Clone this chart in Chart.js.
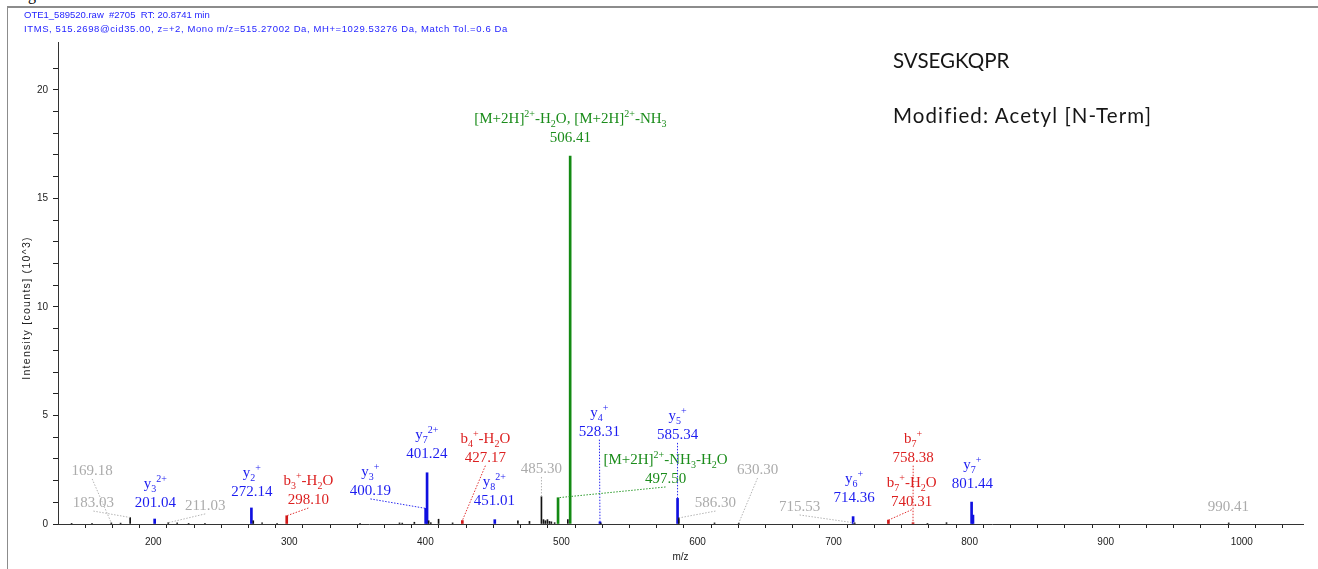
<!DOCTYPE html>
<html>
<head>
<meta charset="utf-8">
<title>SVSEGKQPR MS/MS spectrum</title>
<script src="https://cdn.jsdelivr.net/npm/chart.js@4.4.1/dist/chart.umd.min.js"></script>
<style>
  html, body { margin: 0; padding: 0; background: #fff; }
  body { width: 1318px; height: 569px; position: relative; overflow: hidden; }
  #spec { position: absolute; left: 0; top: 0; }
  .frame { position: absolute; left: 7px; top: 6px; width: 1400px; height: 700px;
           border-left: 1px solid #8c8c8c; border-top: 2px solid #8c8c8c; }
  .cut { position: absolute; left: 28px; top: -13px; font: 16px 'Liberation Serif', serif; line-height: 16px; }
  .hdr { position: absolute; left: 24px; font: 9.5px 'Liberation Sans', Arial, sans-serif; color: #2525ff;
         white-space: pre; line-height: 14px; }
  .note { position: absolute; left: 893px; font: 20.5px Lato, 'Open Sans', sans-serif; color: #161616;
          white-space: nowrap; line-height: 20px; }
</style>
</head>
<body>
<div class="cut">g</div>
<div class="frame"></div>
<canvas id="spec" width="1318" height="569"></canvas>
<div class="hdr" style="top:8px">OTE1_589520.raw  #2705  RT: 20.8741 min</div>
<div class="hdr" style="top:22px; letter-spacing:0.6px">ITMS, 515.2698@cid35.00, z=+2, Mono m/z=515.27002 Da, MH+=1029.53276 Da, Match Tol.=0.6 Da</div>
<div class="note" style="top:50px">SVSEGKQPR</div>
<div class="note" style="top:105px; letter-spacing:1.1px">Modified: Acetyl [N-Term]</div>

<script>
// axis range + tick labels
const X_MIN = 130, X_MAX = 1045;
const Y_MAX = 22.2;
const X_TICK_LABELS = [200, 300, 400, 500, 600, 700, 800, 900, 1000];
const Y_TICK_LABELS = [0, 5, 10, 15, 20];
const Y_TITLE = 'Intensity [counts] (10^3)';

// intensities in counts x 10^3
// y ions (blue)
const yIonMz  = [201.04, 272.14, 400.19, 401.24, 451.01, 528.31, 585.34, 714.36, 801.44, 802.45];
const yIonInt = [0.23, 0.74, 0.72, 2.36, 0.20, 0.10, 1.18, 0.34, 1.01, 0.41];
// b ions (red)
const bIonMz  = [298.10, 427.17, 740.31, 758.38];
const bIonInt = [0.38, 0.16, 0.18, 0.06];
// precursor losses (green)
const precMz  = [497.50, 506.41];
const precInt = [1.21, 16.95];
// unassigned peaks (black)
const otherMz  = [140, 155, 169.18, 176, 183.03, 211.03, 217.6, 226, 238, 273.5, 280, 291, 352, 381, 383,
                  391.9, 402.4, 404, 409.7, 420, 468, 476.5, 485.30, 486.8, 488.2, 489.7, 491.2, 492.6, 495,
                  504.7, 529, 586.30, 612.5, 630.30, 715.53, 769, 783, 990.41];
const otherInt = [0.03, 0.03, 0.05, 0.04, 0.30, 0.06, 0.05, 0.03, 0.03, 0.15, 0.05, 0.03, 0.03, 0.05, 0.04,
                  0.08, 0.15, 0.06, 0.22, 0.05, 0.15, 0.12, 1.26, 0.20, 0.15, 0.20, 0.12, 0.10, 0.06,
                  0.20, 0.04, 0.28, 0.05, 0.04, 0.05, 0.03, 0.06, 0.05];

// annotated peaks: which peak, ion name (_ = sub, ^ = sup), ion type
const labelMz   = [169.18, 183.03, 201.04, 211.03, 272.14, 298.10, 400.19, 401.24, 427.17, 451.01, 485.30,
                   506.41, 528.31, 497.50, 585.34, 586.30, 630.30, 715.53, 714.36, 758.38, 740.31, 801.44, 990.41];
const labelName = ['', '', 'y_3^{2+}', '', 'y_2^+', 'b_3^+-H_2O', 'y_3^+', 'y_7^{2+}', 'b_4^+-H_2O', 'y_8^{2+}', '',
                   '[M+2H]^{2+}-H_2O, [M+2H]^{2+}-NH_3', 'y_4^+', '[M+2H]^{2+}-NH_3-H_2O', 'y_5^+', '', '', '',
                   'y_6^+', 'b_7^+', 'b_7^+-H_2O', 'y_7^+', ''];
const labelKind = ['o', 'o', 'y', 'o', 'y', 'b', 'y', 'y', 'b', 'y', 'o',
                   'p', 'y', 'p', 'y', 'o', 'o', 'o', 'y', 'b', 'b', 'y', 'o'];

// where each label sits (m/z, intensity of the number's baseline) - layout only
const LABEL_SPOTS = [
  [155.1, 2.26], [156.0, 0.78], [201.5, 0.78], [238.2, 0.65], [272.4, 1.29], [314.0, 0.92],
  [359.6, 1.34], [401.1, 3.04], [444.1, 2.87], [450.7, 0.88], [485.3, 2.35], [506.6, 17.6],
  [527.9, 4.07], [576.5, 1.89], [585.3, 3.92], [613.2, 0.78], [644.1, 2.30], [675.0, 0.60],
  [715.1, 1.01], [758.5, 2.87], [757.4, 0.84], [802.0, 1.65], [990.2, 0.60]
];

const BAR_COLOR  = { y: '#1010e0', b: '#d01818', p: '#138a13', o: '#111111' };
const TEXT_COLOR = { y: '#1c1cf0', b: '#dc1f1f', p: '#1b8c1b', o: '#ababab' };
const LINE_COLOR = { y: '#2a2af0', b: '#e03030', p: '#2a9a2a', o: '#b4b4b4' };
const LABEL_PX = 15;

function pts(xs, ys) {
  return xs.map((v, i) => ({ x: v, y: ys[i] }));
}

const allPeaks = {};
[[yIonMz, yIonInt], [bIonMz, bIonInt], [precMz, precInt], [otherMz, otherInt]].forEach(([m, v]) => {
  m.forEach((mz, i) => { allPeaks[mz.toFixed(2)] = v[i]; });
});

// split "b_4^+-H_2O" into runs of normal / sub / sup text
function parseRich(s) {
  const out = [];
  let i = 0;
  while (i < s.length) {
    const c = s[i];
    if (c === '_' || c === '^') {
      i++;
      let t;
      if (s[i] === '{') { const j = s.indexOf('}', i); t = s.slice(i + 1, j); i = j + 1; }
      else { t = s[i]; i++; }
      out.push([t, c === '_' ? 'sub' : 'sup']);
    } else {
      let j = i;
      while (j < s.length && s[j] !== '_' && s[j] !== '^') j++;
      out.push([s.slice(i, j), 'n']);
      i = j;
    }
  }
  return out;
}

function richFont(mode) {
  return (mode === 'n' ? LABEL_PX : 10) + "px 'Liberation Serif', 'Times New Roman', serif";
}

function drawRich(ctx, str, cx, baseY) {
  const runs = parseRich(str);
  let w = 0;
  runs.forEach(([t, m]) => { ctx.font = richFont(m); w += ctx.measureText(t).width; });
  let x = cx - w / 2;
  ctx.textAlign = 'left';
  runs.forEach(([t, m]) => {
    ctx.font = richFont(m);
    const dy = m === 'sub' ? 4 : m === 'sup' ? -6 : 0;
    ctx.fillText(t, x, baseY + dy);
    x += ctx.measureText(t).width;
  });
}

const peakLabels = {
  id: 'peakLabels',
  afterDatasetsDraw(chart) {
    const { ctx, scales: { x, y } } = chart;
    ctx.save();
    ctx.textBaseline = 'alphabetic';
    labelMz.forEach((mz, i) => {
      const kind = labelKind[i];
      const px = x.getPixelForValue(LABEL_SPOTS[i][0]);
      const py = y.getPixelForValue(LABEL_SPOTS[i][1]);
      // leader line to the peak top
      const tx = x.getPixelForValue(mz);
      const ty = y.getPixelForValue(allPeaks[mz.toFixed(2)] || 0);
      const bx = px, by = py + 4;
      if (Math.hypot(tx - bx, ty - by) > 14) {
        ctx.strokeStyle = LINE_COLOR[kind];
        ctx.lineWidth = 1;
        ctx.setLineDash([1.5, 1.5]);
        ctx.beginPath();
        ctx.moveTo(bx, by);
        ctx.lineTo(tx, ty);
        ctx.stroke();
        ctx.setLineDash([]);
      }
      ctx.fillStyle = TEXT_COLOR[kind];
      ctx.font = richFont('n');
      ctx.textAlign = 'center';
      ctx.fillText(mz.toFixed(2), px, py);
      if (labelName[i]) drawRich(ctx, labelName[i], px, py - 19);
    });
    ctx.restore();
  }
};

// y title is a bit stretched in the original, so it is drawn by hand
const yTitle = {
  id: 'yTitle',
  afterDraw(chart) {
    const { ctx } = chart;
    ctx.save();
    ctx.translate(27, 308);
    ctx.rotate(-Math.PI / 2);
    ctx.font = "10.5px 'Liberation Sans', Arial, sans-serif";
    ctx.letterSpacing = '1.3px';
    ctx.fillStyle = '#222';
    ctx.textAlign = 'center';
    ctx.textBaseline = 'middle';
    ctx.fillText(Y_TITLE, 0, 0);
    ctx.restore();
  }
};

const axisFont = { family: "'Liberation Sans', Arial, sans-serif", size: 10 };

new Chart(document.getElementById('spec'), {
  type: 'bar',
  data: {
    datasets: [
      { data: pts(otherMz, otherInt), backgroundColor: BAR_COLOR.o, barThickness: 1 },
      { data: pts(bIonMz, bIonInt), backgroundColor: BAR_COLOR.b, barThickness: 2 },
      { data: pts(yIonMz, yIonInt), backgroundColor: BAR_COLOR.y, barThickness: 2 },
      { data: pts(precMz, precInt), backgroundColor: BAR_COLOR.p, barThickness: 2 }
    ]
  },
  options: {
    responsive: false,
    animation: false,
    devicePixelRatio: 1,
    layout: { padding: { top: 42, right: 15, left: 0, bottom: 0 } },
    plugins: { legend: { display: false }, tooltip: { enabled: false }, title: { display: false } },
    datasets: { bar: { grouped: false, borderWidth: 0 } },
    scales: {
      x: {
        type: 'linear',
        min: X_MIN, max: X_MAX,
        offset: false,
        afterFit: s => { s.height = 45; },
        afterBuildTicks: s => { s.ticks = s.ticks.filter(t => t.value % 20 === 0); },
        ticks: {
          stepSize: 20, autoSkip: false, maxRotation: 0, padding: 8,
          color: '#222', font: axisFont,
          callback: v => X_TICK_LABELS.includes(v) ? String(v) : ''
        },
        grid: { drawOnChartArea: false, drawTicks: true, tickLength: 4, tickColor: '#222', tickWidth: 1 },
        border: { display: true, color: '#333', width: 1 },
        title: { display: true, text: 'm/z', color: '#222', font: axisFont, padding: { top: 0, bottom: 6 } }
      },
      y: {
        min: 0, max: Y_MAX,
        afterFit: s => { s.width = 58; },
        afterBuildTicks: s => { s.ticks = s.ticks.filter(t => Number.isInteger(t.value)); },
        ticks: {
          stepSize: 1, autoSkip: false, padding: 5,
          color: '#222', font: axisFont,
          callback: v => Y_TICK_LABELS.includes(v) ? String(v) : ''
        },
        grid: { drawOnChartArea: false, drawTicks: true, tickLength: 5, tickColor: '#222', tickWidth: 1 },
        border: { display: true, color: '#333', width: 1 },
        title: { display: false }
      }
    }
  },
  plugins: [peakLabels, yTitle]
});
</script>
</body>
</html>
